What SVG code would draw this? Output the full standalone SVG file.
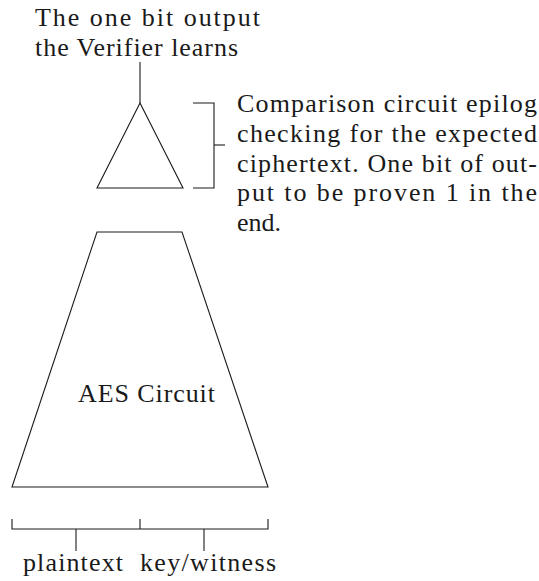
<svg xmlns="http://www.w3.org/2000/svg" width="539" height="581" viewBox="0 0 539 581">
<style>
.ln{fill:none;stroke:#1a1a1a;stroke-width:1.1;stroke-linejoin:miter}
text{font-size:26px;fill:#1a1a1a}
</style>
<rect width="539" height="581" fill="#ffffff"/>
<g font-family="Liberation Serif, DejaVu Serif, serif">
<g id="output-label">
<text x="35" y="26" textLength="225" lengthAdjust="spacing">The one bit output</text>
<text x="35" y="56" textLength="203" lengthAdjust="spacing">the Verifier learns</text>
</g>
<g id="comparator">
<polygon class="ln" points="140,103 97,188 183,188"/>
</g>
<g id="comparator-brace">
<polyline class="ln" points="193,103 214,103 214,188 193,188"/>
</g>
<g id="comparator-label">
<text x="237" y="112" textLength="300" lengthAdjust="spacing">Comparison circuit epilog</text>
<text x="237" y="142" textLength="300" lengthAdjust="spacing">checking for the expected</text>
<text x="237" y="171.5" textLength="300" lengthAdjust="spacing">ciphertext. One bit of out-</text>
<text x="237" y="201" textLength="300" lengthAdjust="spacing">put to be proven 1 in the</text>
<text x="237" y="230.5">end.</text>
</g>
<g id="aes-circuit">
<polygon class="ln" points="97,232 182,232 268,487 12,487"/>
<text x="78" y="402" textLength="137" lengthAdjust="spacing">AES Circuit</text>
</g>
<g id="input-brace">
<polyline class="ln" points="12,519 12,529 268,529 268,519"/>
<line class="ln" x1="140" y1="519" x2="140" y2="529"/>
</g>
<g id="input-labels">
<text x="23" y="571" textLength="100" lengthAdjust="spacing">plaintext</text>
<text x="140" y="571" textLength="136" lengthAdjust="spacing">key/witness</text>
</g>
</g>
<g id="connectors">
<line class="ln" x1="140" y1="62" x2="140" y2="103"/>
<line class="ln" x1="214" y1="145" x2="225" y2="145"/>
<line class="ln" x1="76" y1="529" x2="76" y2="551"/>
<line class="ln" x1="204" y1="529" x2="204" y2="551"/>
</g>
</svg>
